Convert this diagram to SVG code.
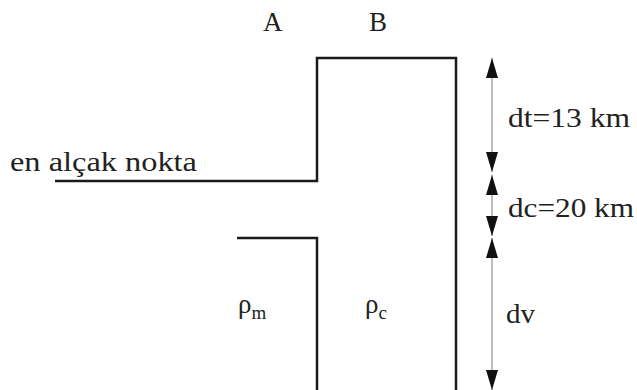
<svg xmlns="http://www.w3.org/2000/svg" width="637" height="390" viewBox="0 0 637 390">
<style>
.wall{fill:none;stroke:#1a1a1a;stroke-width:2.5}
.dim{stroke:#999;stroke-width:1.3}
.t{font-family:"Liberation Serif","Times New Roman",serif;font-size:27px;fill:#222}
.s{font-family:"Liberation Serif","Times New Roman",serif;font-size:19px;fill:#222}
</style>
<defs>
<marker id="ah" markerUnits="userSpaceOnUse" markerWidth="20" markerHeight="12" viewBox="0 0 20 12" refX="20" refY="6" orient="auto-start-reverse">
<path d="M0,0 L20,6 L0,12 Z" fill="#111"/>
</marker>
</defs>
<g id="blocks">
<path class="wall" d="M55,181 H317 V58 H456 V390"/>
<path class="wall" d="M237,238 H317 V390"/>
</g>
<g id="connectors">
<line class="dim" x1="492" y1="58" x2="492" y2="172" marker-start="url(#ah)" marker-end="url(#ah)"/>
<line class="dim" x1="492" y1="175" x2="492" y2="236" marker-start="url(#ah)" marker-end="url(#ah)"/>
<line class="dim" x1="492" y1="238" x2="492" y2="390" marker-start="url(#ah)" marker-end="url(#ah)"/>
</g>
<g id="labels">
<text class="t" x="263" y="31">A</text>
<text class="t" x="369" y="31">B</text>
<text class="t" x="10" y="171" textLength="187" lengthAdjust="spacingAndGlyphs">en alçak nokta</text>
<text class="t" x="508" y="127" textLength="122" lengthAdjust="spacingAndGlyphs">dt=13 km</text>
<text class="t" x="508" y="217" textLength="126" lengthAdjust="spacingAndGlyphs">dc=20 km</text>
<text class="t" x="506" y="323" textLength="29" lengthAdjust="spacingAndGlyphs">dv</text>
<text class="t" x="238" y="313">ρ<tspan class="s" dy="6">m</tspan></text>
<text class="t" x="365" y="313">ρ<tspan class="s" dy="6">c</tspan></text>
</g>
</svg>
